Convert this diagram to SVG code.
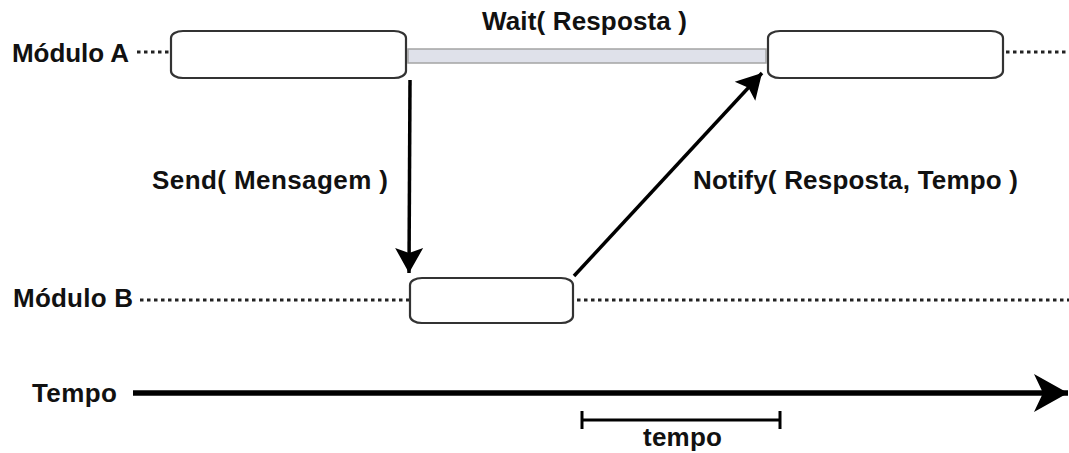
<svg xmlns="http://www.w3.org/2000/svg" width="1069" height="453" viewBox="0 0 1069 453">
  <style>
    .lbl { font-family: "Liberation Sans", Arial, sans-serif; font-weight: bold; font-size: 26px; fill: #111; }
    .box { fill: #fff; stroke: #333; stroke-width: 2.2; }
    .life { stroke: #222; stroke-width: 3; stroke-dasharray: 3.5 3.5; fill: none; }
    .msg { stroke: #000; stroke-width: 3.5; fill: none; }
    .tick { stroke: #000; stroke-width: 3; fill: none; }
    .axis { stroke: #000; stroke-width: 5.5; fill: none; }
    .wait { fill: #dfe1ea; stroke: #a4a4a4; stroke-width: 1.5; }
  </style>
  <defs>
    <marker id="head" markerUnits="userSpaceOnUse" viewBox="-26 -15 28 30" refX="0" refY="0" markerWidth="28" markerHeight="30" orient="auto">
      <path d="M0,0 L-25,-14 L-20,0 L-25,14 Z" fill="#000"/>
    </marker>
    <marker id="bighead" markerUnits="userSpaceOnUse" viewBox="-36 -21 38 42" refX="0" refY="0" markerWidth="38" markerHeight="42" orient="auto">
      <path d="M0,0 L-34,-19 L-25,0 L-34,19 Z" fill="#000"/>
    </marker>
  </defs>

  <!-- lifelines -->
  <g id="lifelines">
    <line class="life" x1="137" y1="52" x2="170" y2="52"/>
    <line class="life" x1="1006" y1="52" x2="1069" y2="52"/>
    <line class="life" x1="140" y1="300" x2="409" y2="300"/>
    <line class="life" x1="577" y1="300" x2="1069" y2="300"/>
  </g>

  <!-- waiting interval on module A -->
  <g id="wait">
    <rect class="wait" x="408" y="49" width="358" height="14"/>
    <text class="lbl" x="482" y="30" textLength="205" lengthAdjust="spacing">Wait( Resposta )</text>
  </g>

  <g id="moduloA-label">
    <text class="lbl" x="12" y="62" textLength="117" lengthAdjust="spacing">Módulo A</text>
  </g>
  <g id="moduloB-label">
    <text class="lbl" x="13" y="307" textLength="120" lengthAdjust="spacing">Módulo B</text>
  </g>

  <g id="a-send">
    <rect class="box" x="171" y="31" width="235" height="47" rx="12" ry="7"/>
  </g>
  <g id="a-receive">
    <rect class="box" x="768" y="31" width="235" height="47" rx="12" ry="7"/>
  </g>
  <g id="b-process">
    <rect class="box" x="410" y="278" width="163" height="45" rx="12" ry="7"/>
  </g>

  <!-- messages -->
  <g id="connectors">
    <line class="msg" x1="410" y1="80" x2="409" y2="273" marker-end="url(#head)"/>
    <line class="msg" x1="574" y1="276" x2="762" y2="73" marker-end="url(#head)"/>
    <line class="axis" x1="133" y1="393" x2="1068" y2="393" marker-end="url(#bighead)"/>
  </g>

  <g id="message-labels">
    <text class="lbl" x="152" y="189" textLength="236" lengthAdjust="spacing">Send( Mensagem )</text>
    <text class="lbl" x="693" y="189" textLength="325" lengthAdjust="spacing">Notify( Resposta, Tempo )</text>
  </g>

  <!-- time axis -->
  <g id="time-axis">
    <text class="lbl" x="32" y="402" textLength="85" lengthAdjust="spacing">Tempo</text>
    <line class="tick" x1="582" y1="420" x2="780" y2="420"/>
    <line class="tick" x1="582" y1="411" x2="582" y2="429"/>
    <line class="tick" x1="780" y1="411" x2="780" y2="429"/>
    <text class="lbl" x="643" y="446" textLength="79" lengthAdjust="spacing">tempo</text>
  </g>
</svg>
